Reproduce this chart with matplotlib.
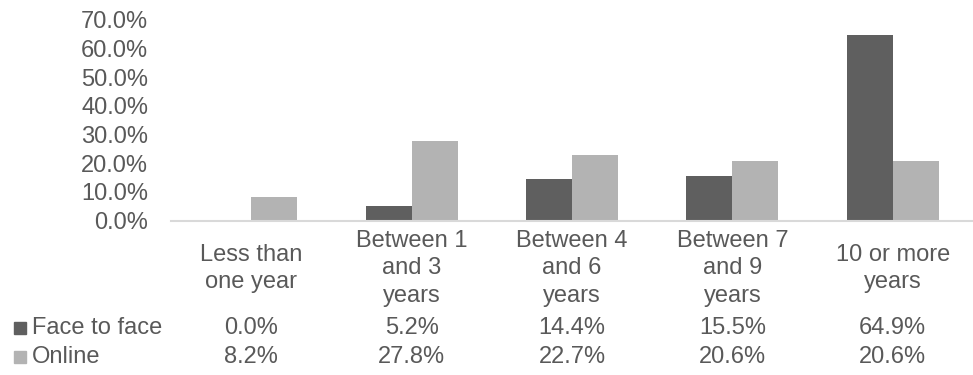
import numpy as np
import matplotlib.pyplot as plt
import matplotlib.transforms as mtransforms
from matplotlib.patches import Rectangle

plt.rcParams['font.family'] = ['Liberation Sans', 'DejaVu Sans']

# data
categories = ['Less than\none year', 'Between 1\nand 3\nyears', 'Between 4\nand 6\nyears',
              'Between 7\nand 9\nyears', '10 or more\nyears']
series_names = ['Face to face', 'Online']
face_to_face = [0.0, 5.2, 14.4, 15.5, 64.9]
online = [8.2, 27.8, 22.7, 20.6, 20.6]
yticks = [0, 10, 20, 30, 40, 50, 60, 70]

dark = '#5f5f5f'
light = '#b3b3b3'
txt = '#595959'
fs = 17

fig = plt.figure(figsize=(9.73, 3.75), dpi=100)
ax = fig.add_axes([171 / 973, 1 - 220.5 / 375, 1 - 171 / 973, 200.5 / 375])

x = np.arange(len(categories))
w = 0.287
ax.bar(x - w / 2, face_to_face, w, color=dark, zorder=2)
ax.bar(x + w / 2, online, w, color=light, zorder=2)

ax.set_xlim(-0.5, len(categories) - 0.5)
ax.set_ylim(0, 70)
ax.set_yticks(yticks)
ax.set_yticklabels(['%.1f%%' % v for v in yticks], color=txt, fontsize=fs)
ax.tick_params(axis='y', length=0, pad=16.5)
ax.set_xticks([])
for s in ['top', 'right', 'left']:
    ax.spines[s].set_visible(False)
ax.spines['bottom'].set_color('#d9d9d9')
ax.spines['bottom'].set_linewidth(1.5)

# category labels and data table under the axis
tr = mtransforms.blended_transform_factory(ax.transData, fig.transFigure)
for i, c in enumerate(categories):
    ax.text(i, 1 - 268.5 / 375, c, transform=tr, ha='center', va='center',
            fontsize=fs, color=txt, linespacing=1.3)
    ax.text(i, 1 - 328 / 375, '%.1f%%' % face_to_face[i], transform=tr,
            ha='center', va='center', fontsize=fs, color=txt)
    ax.text(i, 1 - 357 / 375, '%.1f%%' % online[i], transform=tr,
            ha='center', va='center', fontsize=fs, color=txt)

for name, col, yy in zip(series_names, [dark, light], [328, 357]):
    fig.patches.append(Rectangle((14 / 973, 1 - (yy + 6) / 375), 12 / 973, 12 / 375,
                                 transform=fig.transFigure, color=col))
    fig.text(32 / 973, 1 - yy / 375, name, ha='left', va='center',
             fontsize=fs, color=txt)

fig.savefig('out.png', dpi=100)
